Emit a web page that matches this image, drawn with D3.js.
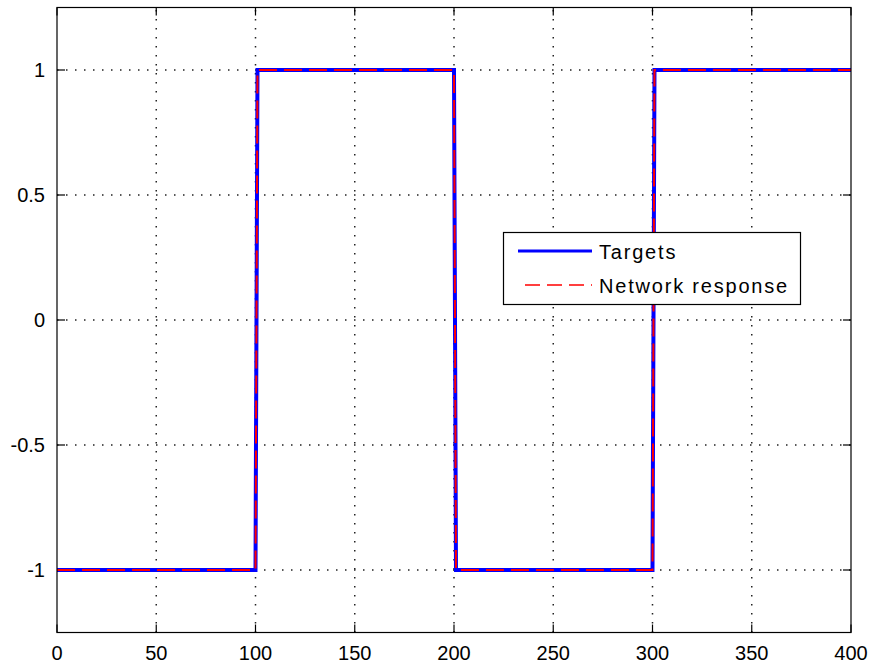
<!DOCTYPE html>
<html><head><meta charset="utf-8">
<script src="https://cdn.jsdelivr.net/npm/d3@7"></script>
<style>body{margin:0;background:#fff}svg{display:block}</style>
</head><body>
<script>
const targetX = [0, 100, 101, 200, 201, 300, 301, 400];
const targetY = [-1, -1, 1, 1, -1, -1, 1, 1];
const responseX = [0, 100, 101, 200, 201, 300, 301, 400];
const responseY = [-1, -1, 1, 1, -1, -1, 1, 1];
const xTicks = [0, 50, 100, 150, 200, 250, 300, 350, 400];
const yTicks = [-1, -0.5, 0, 0.5, 1];
const yTickLabels = ["-1", "-0.5", "0", "0.5", "1"];
const seriesNames = ["Targets", "Network response"];

const W = 871, H = 666;
const L = 57, R = 851, T = 7.5, B = 632.5;
const svg = d3.select("body").append("svg").attr("width", W).attr("height", H);
const x = d3.scaleLinear().domain([0, 400]).range([L, R]);
const y = d3.scaleLinear().domain([-1.25, 1.25]).range([B, T]);
const font = "'Liberation Sans', Arial, sans-serif";

// grid
const grid = svg.append("g").attr("stroke", "#222").attr("stroke-width", 1.5).attr("stroke-dasharray", "1.5 7.5");
xTicks.slice(1, -1).forEach(v => grid.append("line").attr("x1", x(v)).attr("x2", x(v)).attr("y1", B).attr("y2", T));
yTicks.forEach(v => grid.append("line").attr("x1", L).attr("x2", R).attr("y1", y(v)).attr("y2", y(v)));

// ticks (inside, box on)
const tk = svg.append("g").attr("stroke", "#000").attr("stroke-width", 1.2);
xTicks.forEach(v => {
  tk.append("line").attr("x1", x(v)).attr("x2", x(v)).attr("y1", B).attr("y2", B - 8);
  tk.append("line").attr("x1", x(v)).attr("x2", x(v)).attr("y1", T).attr("y2", T + 8);
});
yTicks.forEach(v => {
  tk.append("line").attr("x1", L).attr("x2", L + 8).attr("y1", y(v)).attr("y2", y(v));
  tk.append("line").attr("x1", R).attr("x2", R - 8).attr("y1", y(v)).attr("y2", y(v));
});

// lines
const line = d3.line().x(d => x(d[0])).y(d => y(d[1]));
const tData = targetX.map((v, i) => [v, targetY[i]]);
const rData = responseX.map((v, i) => [v, responseY[i]]);
svg.append("path").datum(tData).attr("d", line).attr("fill", "none").attr("stroke", "#0000ff").attr("stroke-width", 4);
svg.append("path").datum(rData).attr("d", line).attr("fill", "none").attr("stroke", "#ff0000").attr("stroke-width", 2).attr("stroke-dasharray", "18 7");

// frame
svg.append("rect").attr("x", L).attr("y", T).attr("width", R - L).attr("height", B - T).attr("fill", "none").attr("stroke", "#000").attr("stroke-width", 1.2);

// tick labels
xTicks.forEach(v => svg.append("text").attr("x", x(v)).attr("y", 660).attr("text-anchor", "middle")
  .attr("font-family", font).attr("font-size", 20).attr("fill", "#000").text(v));
yTicks.forEach((v, i) => svg.append("text").attr("x", 45).attr("y", y(v) + 7).attr("text-anchor", "end")
  .attr("font-family", font).attr("font-size", 20).attr("fill", "#000").text(yTickLabels[i]));

// legend
const lg = svg.append("g");
lg.append("rect").attr("x", 503.5).attr("y", 232.5).attr("width", 297).attr("height", 72).attr("fill", "#fff").attr("stroke", "#000").attr("stroke-width", 1.2);
lg.append("line").attr("x1", 518).attr("x2", 592).attr("y1", 251).attr("y2", 251).attr("stroke", "#0000ff").attr("stroke-width", 3);
lg.append("line").attr("x1", 525).attr("x2", 592).attr("y1", 285).attr("y2", 285).attr("stroke", "#ff0000").attr("stroke-width", 1.3).attr("stroke-dasharray", "15 7");
lg.append("text").attr("x", 599).attr("y", 259).attr("font-family", font).attr("font-size", 20).attr("letter-spacing", 1.8).attr("fill", "#000").text(seriesNames[0]);
lg.append("text").attr("x", 599).attr("y", 293).attr("font-family", font).attr("font-size", 20).attr("letter-spacing", 1.8).attr("fill", "#000").text(seriesNames[1]);
</script>
</body></html>
